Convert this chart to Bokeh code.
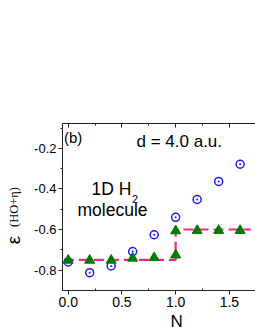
from bokeh.plotting import figure
from bokeh.models import (Range1d, FixedTicker, LinearAxis, Label, PrintfTickFormatter,
                          Title, CustomJSTickFormatter)
from bokeh.embed import file_html
from bokeh.resources import INLINE

# ---- data ----
n_blue = [0.0, 0.2, 0.4, 0.6, 0.8, 1.0, 1.2, 1.4, 1.6]
eps_blue = [-0.76, -0.813, -0.78, -0.709, -0.626, -0.54, -0.452, -0.363, -0.278]

n_green = [0.0, 0.2, 0.4, 0.6, 0.8, 1.0, 1.0, 1.2, 1.4, 1.6]
eps_green = [-0.752, -0.752, -0.752, -0.742, -0.739, -0.726, -0.607, -0.605, -0.605, -0.605]

step_x = [-0.04, 1.0, 1.0, 1.7]
step_y = [-0.75, -0.75, -0.60, -0.60]

x_ticks = [0.0, 0.5, 1.0, 1.5]
x_minor = [0.25, 0.75, 1.25]
y_ticks = [-0.8, -0.6, -0.4, -0.2]
y_minor = [-0.7, -0.5, -0.3, -0.1]

FONT = "Liberation Sans"
AX = "#222222"
TXT = "#000000"
EPS_POS = -0.652   # where the big epsilon of the y label sits along the axis

p = figure(width=255, height=330, output_backend="svg", toolbar_location=None,
           x_range=Range1d(-0.053, 1.743), y_range=Range1d(-0.901, -0.077),
           min_border_left=61, min_border_right=0, min_border_top=123,
           min_border_bottom=38, x_axis_location=None, y_axis_location=None)
p.outline_line_color = None
p.grid.visible = False
p.background_fill_color = "white"
p.border_fill_color = "white"

xb = LinearAxis(ticker=FixedTicker(ticks=x_ticks, minor_ticks=x_minor),
                formatter=PrintfTickFormatter(format="%.1f"))
xb.major_tick_out = 4
xb.major_tick_in = 0
xb.minor_tick_in = 2
xb.minor_tick_out = 0
xb.major_label_standoff = 2
xb.major_label_text_font = FONT
xb.major_label_text_font_size = "14px"
xb.major_label_text_color = TXT
xb.axis_line_color = AX
xb.major_tick_line_color = AX
xb.minor_tick_line_color = AX
p.add_layout(xb, "below")

xt = LinearAxis(ticker=FixedTicker(ticks=x_ticks, minor_ticks=x_minor))
xt.major_tick_in = 4
xt.major_tick_out = 0
xt.minor_tick_in = 2
xt.minor_tick_out = 0
xt.major_label_text_font_size = "0px"
xt.major_label_text_color = None
xt.axis_line_color = AX
xt.major_tick_line_color = AX
xt.minor_tick_line_color = AX
p.add_layout(xt, "above")

yl = LinearAxis(ticker=FixedTicker(ticks=y_ticks, minor_ticks=y_minor),
                formatter=PrintfTickFormatter(format="%.1f"))
yl.major_tick_out = 4
yl.major_tick_in = 0
yl.minor_tick_out = 2
yl.minor_tick_in = 0
yl.major_label_standoff = 2
yl.major_label_text_font = FONT
yl.major_label_text_font_size = "13px"
yl.major_label_text_color = TXT
yl.axis_line_color = AX
yl.major_tick_line_color = AX
yl.minor_tick_line_color = AX
yl.axis_label = "(HO+\u03b7)"
yl.axis_label_text_font = "Liberation Serif"
yl.axis_label_text_font_size = "12.5px"
yl.axis_label_text_font_style = "normal"
yl.axis_label_text_color = TXT
yl.axis_label_standoff = 10
p.add_layout(yl, "left")

# big epsilon of the y label, drawn as the single tick label of a bare axis
ye = LinearAxis(ticker=FixedTicker(ticks=[EPS_POS], minor_ticks=[]),
                formatter=CustomJSTickFormatter(code='return "\u03b5"'))
ye.axis_line_color = None
ye.major_tick_line_color = None
ye.minor_tick_line_color = None
ye.major_tick_out = 0
ye.major_tick_in = 0
ye.minor_tick_out = 0
ye.minor_tick_in = 0
ye.major_label_orientation = "vertical"
ye.major_label_standoff = -20
ye.major_label_text_font = FONT
ye.major_label_text_font_size = "19px"
ye.major_label_text_color = TXT
p.add_layout(ye, "left")

p.add_layout(Title(text="N", align="left", offset=108, text_font=FONT,
                   text_font_size="17px", text_font_style="normal",
                   text_color=TXT, standoff=0), "below")

p.line(step_x, step_y, line_color="#f0288c", line_width=2.2, line_dash="10 5")
p.scatter(n_blue, eps_blue, marker="circle_dot", size=8, line_color="#1a1aff",
          fill_color=None, line_width=1.5)
p.scatter(n_green, eps_green, marker="triangle", size=10, line_color="#007a00",
          fill_color="#007a00", line_width=1)

def lab(text, x, y, size, align="left", baseline="alphabetic", font=FONT):
    p.add_layout(Label(x=x, y=y, x_units="screen", y_units="screen", text=text,
                       text_font=font, text_font_size=size, text_color=TXT,
                       text_align=align, text_baseline=baseline))

# frame-relative screen coordinates (origin = frame bottom-left)
lab("(b)", 1.5, 153.3, "15px")
lab("d = 4.0 a.u.", 74, 148.7, "17px")
lab("1D H", 29, 102, "17.5px")
lab("2", 69.5, 92, "11px")
lab("molecule", 15, 81, "17.5px")

open("out.html", "w").write(file_html(p, INLINE))
